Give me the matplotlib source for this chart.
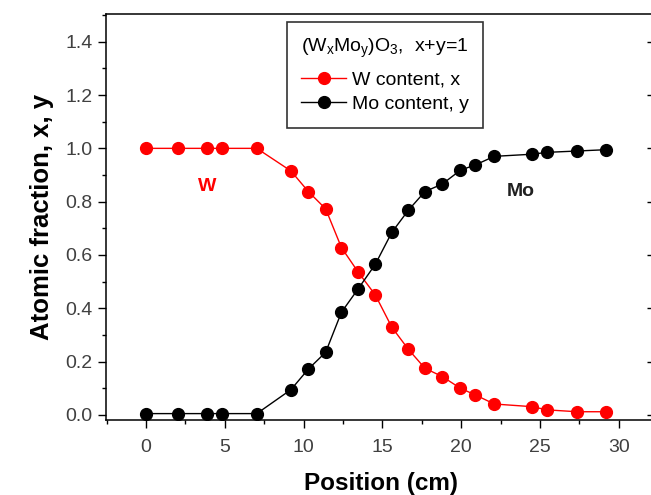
import numpy as np
import matplotlib
matplotlib.use("Agg")
import matplotlib.pyplot as plt
from matplotlib.ticker import MultipleLocator

plt.rcParams["font.family"] = ["Liberation Sans", "DejaVu Sans"]
plt.rcParams["mathtext.default"] = "regular"

# positions along the sample (cm)
position = [0, 2.0, 3.85, 4.8, 7.03, 9.2, 10.3, 11.4, 12.4, 13.45, 14.55,
            15.6, 16.65, 17.7, 18.8, 19.95, 20.9, 22.1, 24.5, 25.45, 27.35, 29.2]

# W content, x
w_content = [1.0, 1.0, 1.0, 1.0, 1.0, 0.915, 0.838, 0.773, 0.628, 0.537, 0.45,
             0.329, 0.246, 0.175, 0.144, 0.100, 0.075, 0.041, 0.031, 0.019, 0.012, 0.012]

# Mo content, y
mo_content = [0.005, 0.005, 0.005, 0.005, 0.005, 0.095, 0.172, 0.235, 0.385, 0.472, 0.565,
              0.685, 0.768, 0.838, 0.866, 0.918, 0.938, 0.970, 0.978, 0.985, 0.990, 0.995]

fig = plt.figure(figsize=(6.51, 4.95), dpi=100)
ax = fig.add_axes([106 / 651, 75 / 495, 549 / 651, 406 / 495])

ax.plot(position, w_content, color="red", marker="o", markersize=8.5,
        linewidth=1.0, label="W content, x")
ax.plot(position, mo_content, color="black", marker="o", markersize=8.5,
        linewidth=1.0, label="Mo content, y")

ax.set_xlim(-2.54, 32.3)
ax.set_ylim(-0.019, 1.504)
ax.xaxis.set_major_locator(MultipleLocator(5))
ax.xaxis.set_minor_locator(MultipleLocator(2.5))
ax.yaxis.set_major_locator(MultipleLocator(0.2))
ax.yaxis.set_minor_locator(MultipleLocator(0.1))
ax.yaxis.set_major_formatter(plt.FormatStrFormatter("%.1f"))

ax.tick_params(which="major", direction="out", length=6, width=1.0,
               labelsize=14, labelcolor="#404040", top=False, right=False)
ax.tick_params(axis="x", which="major", pad=7.5)
ax.tick_params(which="minor", direction="out", length=3, width=1.0,
               top=False, right=False)

sec = ax.secondary_yaxis("right")
sec.yaxis.set_major_locator(MultipleLocator(0.2))
sec.tick_params(direction="in", length=6, width=1.0, labelright=False)

for sp in ax.spines.values():
    sp.set_linewidth(1.1)

ax.set_xlabel("Position (cm)", fontsize=17.5, fontweight="bold", labelpad=12)
ax.set_ylabel("Atomic fraction, x, y", fontsize=18.5, fontweight="bold", labelpad=8)

ax.text(3.9, 0.856, "W", color="red", fontsize=14, fontweight="bold",
        ha="center", va="center")
ax.text(23.75, 0.838, "Mo", color="#202020", fontsize=14, fontweight="bold",
        ha="center", va="center")

leg = ax.legend(loc="upper left", bbox_to_anchor=(0.329, 0.98), borderaxespad=0,
                fontsize=14, title=r"(W$_x$Mo$_y$)O$_3$,  x+y=1", title_fontsize=14,
                frameon=True, fancybox=False, edgecolor="black",
                handlelength=2.3, borderpad=0.75, labelspacing=0.35, handletextpad=0.3)
leg.get_frame().set_linewidth(1.2)
leg._legend_box.sep = 8

fig.savefig("out.png", dpi=100)
